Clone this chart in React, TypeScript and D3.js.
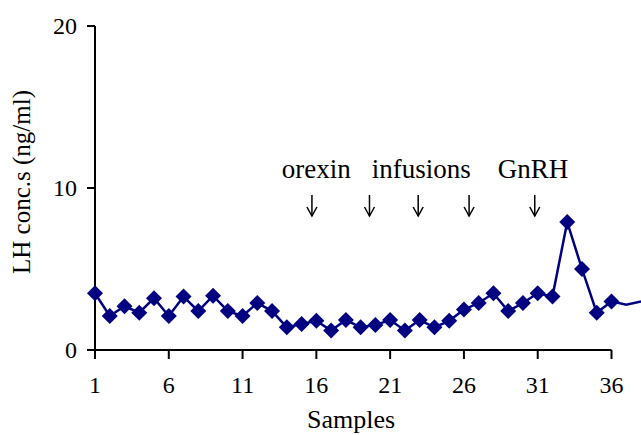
import React from "react";
import * as d3 from "d3";

const samples = Array.from({ length: 38 }, (_, i) => i + 1);
const lhValues = [
  3.5, 2.1, 2.7, 2.3, 3.2, 2.1, 3.3, 2.4, 3.35, 2.4,
  2.1, 2.9, 2.4, 1.4, 1.6, 1.8, 1.2, 1.85, 1.4, 1.55,
  1.85, 1.2, 1.85, 1.4, 1.8, 2.5, 2.9, 3.5, 2.4, 2.9,
  3.5, 3.3, 7.9, 5.0, 2.3, 3.0, 2.8, 3.0,
];
const markerCount = 36;
const xTicks = [1, 6, 11, 16, 21, 26, 31, 36];
const yTicks = [0, 10, 20];
const arrowSamples = [15.7, 19.6, 22.9, 26.35, 30.8];
const annotationLabels = ["orexin", "infusions", "GnRH"];
const annotationSamples = [13.65, 19.75, 28.3];

const W = 641;
const H = 435;
const COLOR = "#000080";
const FONT = "'Liberation Serif', 'Times New Roman', serif";

export default function App() {
  const x = d3.scaleLinear().domain([1, 36]).range([95, 611.5]);
  const y = d3.scaleLinear().domain([0, 20]).range([350, 26]);
  const line = d3
    .line<number>()
    .x((_, i) => x(samples[i]))
    .y((d) => y(d));
  const diamond = (s: number) => `M0,${-s}L${s},0L0,${s}L${-s},0Z`;

  return (
    <svg
      width={W}
      height={H}
      style={{ position: "absolute", left: 0, top: 0, background: "#fff" }}
    >
      <rect width={W} height={H} fill="#fff" />
      {/* axes */}
      <line x1={x(1)} x2={x(1)} y1={y(20)} y2={y(0)} stroke="#000" strokeWidth={2} />
      <line x1={x(1)} x2={x(36)} y1={y(0)} y2={y(0)} stroke="#000" strokeWidth={2} />
      {yTicks.map((t) => (
        <g key={"y" + t}>
          <line x1={x(1) - 8} x2={x(1)} y1={y(t)} y2={y(t)} stroke="#000" strokeWidth={2} />
          <text
            x={77}
            y={y(t)}
            dy="0.35em"
            textAnchor="end"
            fontFamily={FONT}
            fontSize={24}
          >
            {t}
          </text>
        </g>
      ))}
      {xTicks.map((t) => (
        <g key={"x" + t}>
          <line x1={x(t)} x2={x(t)} y1={y(0)} y2={y(0) + 9} stroke="#000" strokeWidth={2} />
          <text
            x={x(t)}
            y={393}
            textAnchor="middle"
            fontFamily={FONT}
            fontSize={24}
          >
            {t}
          </text>
        </g>
      ))}
      <text
        x={351}
        y={428}
        textAnchor="middle"
        fontFamily={FONT}
        fontSize={26}
      >
        Samples
      </text>
      <text
        transform={`translate(30,182) rotate(-90)`}
        textAnchor="middle"
        fontFamily={FONT}
        fontSize={25}
      >
        LH conc.s (ng/ml)
      </text>
      {/* annotations */}
      {annotationLabels.map((l, i) => (
        <text
          key={l}
          x={x(annotationSamples[i])}
          y={178}
          fontFamily={FONT}
          fontSize={27}
        >
          {l}
        </text>
      ))}
      {arrowSamples.map((s, i) => (
        <g key={"a" + i} stroke="#000" strokeWidth={1.5} fill="none">
          <line x1={x(s)} x2={x(s)} y1={195} y2={216} />
          <path d={`M${x(s) - 5},${207}L${x(s)},${216}L${x(s) + 5},${207}`} />
        </g>
      ))}
      {/* series */}
      <path d={line(lhValues) || ""} fill="none" stroke={COLOR} strokeWidth={2.5} />
      {lhValues.slice(0, markerCount).map((v, i) => (
        <path
          key={"m" + i}
          d={diamond(8)}
          transform={`translate(${x(samples[i])},${y(v)})`}
          fill={COLOR}
        />
      ))}
    </svg>
  );
}
